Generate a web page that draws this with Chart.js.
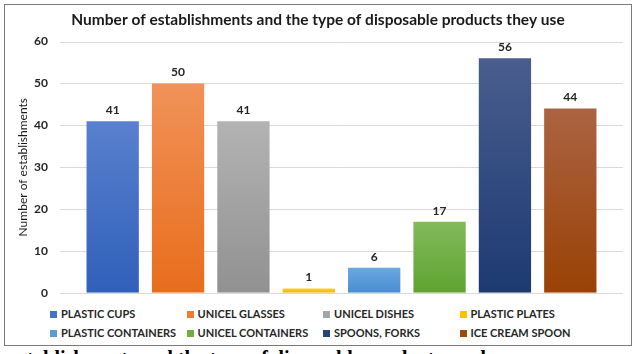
<!DOCTYPE html>
<html>
<head>
<meta charset="utf-8">
<script src="https://cdn.jsdelivr.net/npm/chart.js@4/dist/chart.umd.min.js"></script>
<style>
  html, body { margin:0; padding:0; background:#fff; width:638px; height:354px; overflow:hidden; }
  #frame { position:absolute; left:4px; top:4px; width:628px; height:342px; border:1.5px solid #7a7a7a; box-sizing:border-box; }
  #wrap { position:absolute; left:0; top:0; width:638px; height:300px; }
  #legend { position:absolute; left:50px; top:307px; width:560px; font-family:Lato, sans-serif; font-weight:bold; font-size:11px; color:#262626; }
  .item { position:absolute; white-space:nowrap; line-height:14px; }
  .sw { display:inline-block; width:7px; height:7px; margin-right:4px; vertical-align:0px; }
  #caption { position:absolute; left:10px; top:348px; font-family:"Liberation Serif", serif; font-weight:bold; font-size:20px; line-height:20px; color:#000; white-space:nowrap; }
</style>
</head>
<body>
<div id="frame"></div>
<div id="wrap"><canvas id="c" width="638" height="300"></canvas></div>
<div id="legend"></div>
<div id="caption">establishments and the type of disposable products used</div>
<script>
const categories = ["PLASTIC CUPS","UNICEL GLASSES","UNICEL DISHES","PLASTIC PLATES","PLASTIC CONTAINERS","UNICEL CONTAINERS","SPOONS, FORKS","ICE CREAM SPOON"];
const establishments = [41, 50, 41, 1, 6, 17, 56, 44];
const yTicks = [0, 10, 20, 30, 40, 50, 60];
const chartTitle = "Number of establishments and the type of disposable products they use";
const yTitle = "Number of establishments";

const baseColors = ["#4472C4","#ED7D31","#A5A5A5","#FFC000","#5B9BD5","#70AD47","#264478","#9E480E"];
const topColors  = ["#5a80cf","#f19259","#b3b3b3","#ffcc33","#6aa8e2","#82bb5a","#4a5d8e","#ab6342"];
const botColors  = ["#2f60b9","#e86d1c","#919191","#f2b500","#4a8ccf","#60a232","#1c3a71","#9a4105"];

const leg = document.getElementById('legend');
categories.forEach((c, i) => {
  const d = document.createElement('div');
  d.className = 'item';
  d.style.left = ((i % 4) * 136.5) + 'px';
  d.style.top = (Math.floor(i / 4) * 19) + 'px';
  d.innerHTML = '<span class="sw" style="background:' + baseColors[i] + '"></span>' + c;
  leg.appendChild(d);
});

const gridPlugin = {
  id: 'gridExt',
  beforeDatasetsDraw(chart) {
    const ctx = chart.ctx, y = chart.scales.y, a = chart.chartArea;
    ctx.save();
    ctx.strokeStyle = '#d9d9d9';
    ctx.lineWidth = 1;
    yTicks.forEach(v => {
      const py = Math.round(y.getPixelForValue(v)) + 0.5;
      ctx.beginPath();
      ctx.moveTo(a.left - 20, py);
      ctx.lineTo(a.right + 20, py);
      ctx.stroke();
    });
    ctx.restore();
  }
};

const labelPlugin = {
  id: 'valLabels',
  afterDatasetsDraw(chart) {
    const ctx = chart.ctx;
    const meta = chart.getDatasetMeta(0);
    ctx.save();
    ctx.font = 'bold 12px Lato';
    ctx.fillStyle = '#262626';
    ctx.textAlign = 'center';
    ctx.textBaseline = 'bottom';
    meta.data.forEach((bar, i) => {
      ctx.fillText(String(establishments[i]), bar.x, bar.y - 5);
    });
    ctx.restore();
  }
};

new Chart(document.getElementById('c'), {
  type: 'bar',
  data: {
    labels: categories,
    datasets: [{
      data: establishments,
      backgroundColor: (ctx) => {
        const chart = ctx.chart;
        if (!chart.chartArea || ctx.type !== 'data') return baseColors[ctx.dataIndex];
        const y = chart.scales.y;
        const top = y.getPixelForValue(establishments[ctx.dataIndex]);
        const bot = y.getPixelForValue(0);
        const g = chart.ctx.createLinearGradient(0, top, 0, bot);
        g.addColorStop(0, topColors[ctx.dataIndex]);
        g.addColorStop(1, botColors[ctx.dataIndex]);
        return g;
      },
      borderWidth: 0,
      barPercentage: 0.8,
      categoryPercentage: 1.0
    }]
  },
  options: {
    responsive: false,
    animation: false,
    layout: { padding: { left: 0, right: 2, top: 0, bottom: 7 } },
    plugins: {
      legend: { display: false },
      tooltip: { enabled: false },
      title: {
        display: true,
        text: chartTitle,
        color: '#1a1a1a',
        font: { family: 'Lato', size: 15.5, weight: 'bold' },
        padding: { top: 11, bottom: 12 }
      }
    },
    scales: {
      x: { display: false },
      y: {
        min: 0, max: 60,
        afterBuildTicks: (s) => { s.ticks = yTicks.map(v => ({ value: v })); },
        afterFit: (s) => { s.width = 80; },
        grid: { display: false, drawTicks: true, tickLength: 32 },
        border: { display: false },
        ticks: { padding: 0, color: '#262626', font: { family: 'Lato', size: 12, weight: 'bold' } },
        title: {
          display: true,
          text: yTitle,
          color: '#1a1a1a',
          font: { family: 'Lato', size: 12 },
          padding: { top: 16, bottom: 0 }
        }
      },
      yRight: {
        position: 'right',
        min: 0, max: 60,
        afterFit: (s) => { s.width = 33; },
        grid: { display: false, drawTicks: false },
        border: { display: false },
        ticks: { display: false }
      }
    }
  },
  plugins: [gridPlugin, labelPlugin]
});
</script>
</body>
</html>
